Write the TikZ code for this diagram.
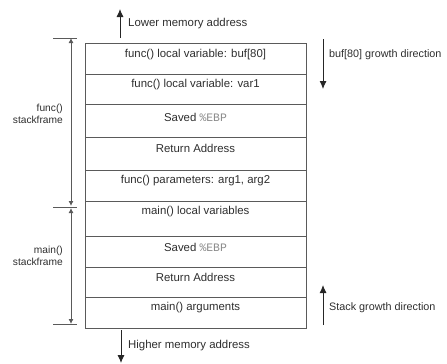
\documentclass[tikz,border=0pt]{standalone}
\usepackage{fontspec}
\setmainfont{Liberation Sans}
\newfontfamily\monofont{Liberation Mono}
\usetikzlibrary{arrows.meta}
\definecolor{txtc}{HTML}{2E2E2E}
\definecolor{linec}{HTML}{5A5A5A}
\definecolor{ebpc}{HTML}{8A8A8A}
\begin{document}
\begin{tikzpicture}[x=1pt,y=-1pt,
  rowbox/.style={draw=linec, line width=1pt, minimum width=221pt, inner sep=0pt, anchor=north west},
  txt/.style={text=txtc, font=\fontsize{11.4}{13}\selectfont, inner sep=0pt},
  righttxt/.style={text=txtc, font=\fontsize{10.8}{13}\selectfont, inner sep=0pt},
  sidetxt/.style={text=txtc, font=\fontsize{10.2}{12}\selectfont, inner sep=0pt},
  bigarrow/.style={draw=black!85, line width=0.9pt, -{Latex[length=8pt,width=7pt]}},
  smallarrow/.style={draw=linec, line width=0.9pt, {Latex[length=5pt,width=5pt]}-{Latex[length=5pt,width=5pt]}},
  tick/.style={draw=linec, line width=0.9pt}
]
\useasboundingbox (0,0) rectangle (447,364);
\newcommand{\ebp}{{\monofont\color{ebpc}\%EBP}}
% rows
\node[rowbox, minimum height=31pt] (r1) at (85,43) {};
\node[rowbox, minimum height=30pt] (r2) at (85,74) {};
\node[rowbox, minimum height=33pt] (r3) at (85,104) {};
\node[rowbox, minimum height=33pt] (r4) at (85,137) {};
\node[rowbox, minimum height=31pt] (r5) at (85,170) {};
\node[rowbox, minimum height=35pt] (r6) at (85,201) {};
\node[rowbox, minimum height=31pt] (r7) at (85,236) {};
\node[rowbox, minimum height=30pt] (r8) at (85,267) {};
\node[rowbox, minimum height=31pt] (r9) at (85,297) {};
% texts
\node[txt] (t1) at (195.5,55) {func() local variable: buf[80]};
\node[txt] (t2) at (195.5,85) {func() local variable: var1};
\node[txt] (t3) at (195.5,117) {Saved \ebp};
\node[txt] (t4) at (195.5,148) {Return Address};
\node[txt] (t5) at (195.5,181) {func() parameters: arg1, arg2};
\node[txt] (t6) at (195.5,212) {main() local variables};
\node[txt] (t7) at (195.5,247) {Saved \ebp};
\node[txt] (t8) at (195.5,277) {Return Address};
\node[txt] (t9) at (195.5,308) {main() arguments};
% top / bottom memory arrows
\coordinate (la1) at (120,38);
\coordinate (la2) at (120,9);
\draw[bigarrow] (la1) -- (la2);
\node[txt, anchor=west] (lower) at (128,24) {Lower memory address};
\coordinate (ha1) at (121,330);
\coordinate (ha2) at (121,363);
\draw[bigarrow] (ha1) -- (ha2);
\node[txt, anchor=west] (higher) at (128,346) {Higher memory address};
% right arrows
\coordinate (ba1) at (323,39);
\coordinate (ba2) at (323,89);
\draw[bigarrow] (ba1) -- (ba2);
\node[righttxt, anchor=west] (bufg) at (329,55) {buf[80] growth direction};
\coordinate (sa1) at (323,325);
\coordinate (sa2) at (323,285);
\draw[bigarrow] (sa1) -- (sa2);
\node[righttxt, anchor=west] (stackg) at (329,308) {Stack growth direction};
% left brackets
\coordinate (k1a) at (53,38); \coordinate (k1b) at (77,38);
\coordinate (k2a) at (53,207); \coordinate (k2b) at (77,207);
\coordinate (k3a) at (53,324); \coordinate (k3b) at (77,324);
\draw[tick] (k1a) -- (k1b);
\draw[tick] (k2a) -- (k2b);
\draw[tick] (k3a) -- (k3b);
\coordinate (f1) at (71,38); \coordinate (f2) at (71,206);
\coordinate (m1) at (71,208); \coordinate (m2) at (71,324);
\draw[smallarrow] (f1) -- (f2);
\draw[smallarrow] (m1) -- (m2);
\node[sidetxt, anchor=east, align=right] (fsf) at (63,114) {func()\\stackframe};
\node[sidetxt, anchor=east, align=right] (msf) at (63,256) {main()\\stackframe};
\end{tikzpicture}
\end{document}
